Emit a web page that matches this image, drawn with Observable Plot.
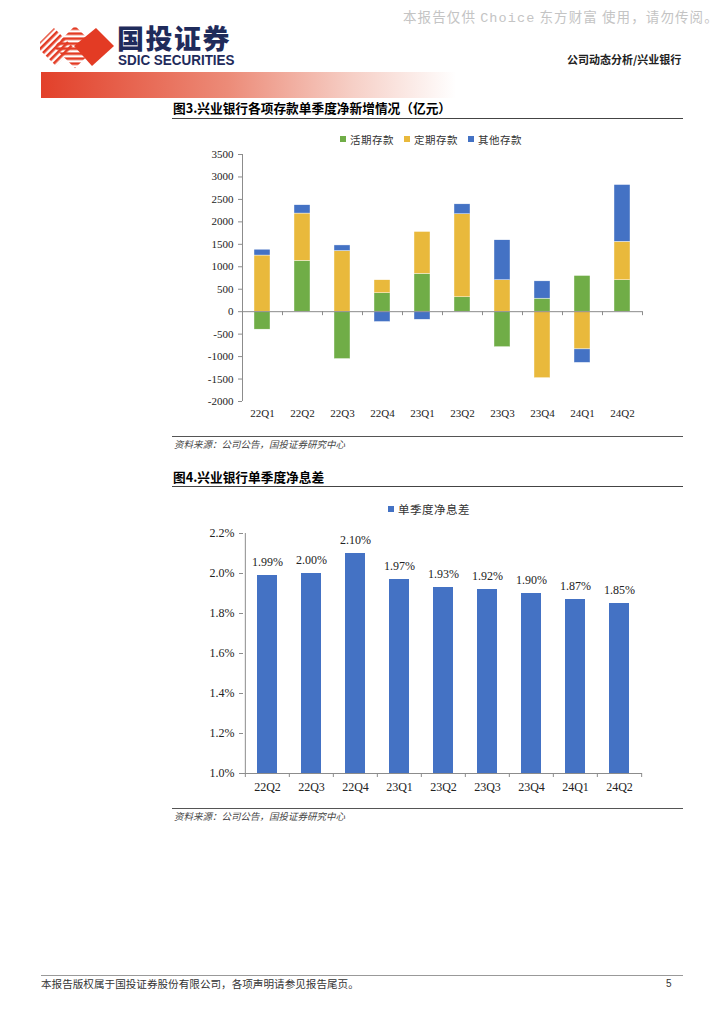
<!DOCTYPE html>
<html><head><meta charset="utf-8">
<script src="https://cdn.jsdelivr.net/npm/d3@7"></script>
<script src="https://cdn.jsdelivr.net/npm/@observablehq/plot@0.6"></script>
<style>
body{margin:0;background:#fff;width:724px;height:1024px;position:relative;overflow:hidden;font-family:"Noto Sans CJK SC",sans-serif;color:#000;}
.abs{position:absolute;white-space:nowrap;}
.hl{position:absolute;height:0;}
.title{font-size:12.7px;font-weight:700;line-height:18px;}
.src{font-size:9.5px;font-style:italic;color:#444;line-height:12px;}
.leg{display:flex;align-items:center;}
.leg span.sw{display:inline-block;}
</style></head><body>

<div class="abs" style="left:403px;top:7px;font-size:13.5px;line-height:18px;color:#c4c4c4;font-family:'Noto Sans CJK SC';letter-spacing:1.1px;">本报告仅供 <span style="font-family:'Liberation Mono';">Choice</span> 东方财富 使用，请勿传阅。</div>

<svg class="abs" style="left:40px;top:26px" width="200" height="44" viewBox="0 0 200 44">
  <defs>
    <pattern id="st" width="5" height="5" patternUnits="userSpaceOnUse" patternTransform="rotate(-45)">
      <rect x="0" y="0" width="5" height="2.6" fill="#e33b24"/>
    </pattern>
  </defs>
  <polygon points="-4,20 14,2 34,22 16,40" fill="url(#st)"/>
  <polygon points="56,2 74,20 52,40 34,20" fill="#e33b24"/>
  <rect x="20" y="6" width="30" height="30" fill="url(#st)" transform="rotate(45 35 21)"/>
</svg>
<div class="abs" style="left:117px;top:25px;font-size:27px;line-height:26px;font-weight:900;color:#1f2b5b;letter-spacing:1.5px;">国投证券</div>
<div class="abs" style="left:118px;top:54px;font-size:14px;line-height:12px;font-weight:700;color:#1f2b5b;font-family:'Liberation Sans Narrow','Liberation Sans';transform:scaleX(0.96);transform-origin:left;">SDIC SECURITIES</div>

<div class="abs" style="left:567px;top:51px;font-size:11px;line-height:16px;font-weight:700;color:#222;">公司动态分析/兴业银行</div>

<div class="abs" style="left:41px;top:72px;width:415px;height:26px;background:linear-gradient(to right,#e2402a 0%,#ec8b78 45%,#f6cfc6 75%,#ffffff 100%);"></div>

<div class="abs title" style="left:173px;top:99px;">图3.兴业银行各项存款单季度净新增情况（亿元）</div>
<div class="hl" style="left:172px;top:118px;width:511px;border-top:1.3px solid #444;"></div>

<div id="leg1" class="abs leg" style="left:340px;top:131px;height:16px;"></div>
<div id="chart1" class="abs" style="left:170px;top:145px;"></div>

<div class="hl" style="left:172px;top:436px;width:511px;border-top:1px solid #555;"></div>
<div class="abs src" style="left:174px;top:438px;">资料来源：公司公告，国投证券研究中心</div>

<div class="abs title" style="left:173px;top:468px;">图4.兴业银行单季度净息差</div>
<div class="hl" style="left:172px;top:486px;width:511px;border-top:1.3px solid #444;"></div>

<div id="leg2" class="abs leg" style="left:388px;top:501px;height:16px;"></div>
<div id="chart2" class="abs" style="left:170px;top:520px;"></div>

<div class="hl" style="left:172px;top:808px;width:511px;border-top:1px solid #555;"></div>
<div class="abs src" style="left:174px;top:810px;">资料来源：公司公告，国投证券研究中心</div>

<div class="hl" style="left:41px;top:975px;width:642px;border-top:1px solid #999;"></div>
<div class="abs" style="left:41px;top:977px;font-size:10.6px;line-height:13px;color:#333;">本报告版权属于国投证券股份有限公司，各项声明请参见报告尾页。</div>
<div class="abs" style="left:666px;top:977px;font-size:10px;line-height:13px;color:#333;font-family:'Liberation Sans';">5</div>

<script>
// ---- Chart 1 data: 兴业银行各项存款单季度净新增（亿元）
const quarters1 = ["22Q1","22Q2","22Q3","22Q4","23Q1","23Q2","23Q3","23Q4","24Q1","24Q2"];
const series1 = ["活期存款","定期存款","其他存款"];
const colors1 = ["#70ad47","#e9b93c","#4472c4"];
const demandDep = [-400, 1130, -1055, 410, 840, 320, -790, 290, 795, 700];
const timeDep   = [1250, 1055, 1350, 290, 935, 1850, 700, -1480, -840, 855];
const otherDep  = [130, 185, 125, -230, -180, 220, 890, 385, -300, 1265];
const yTicks1 = [-2000,-1500,-1000,-500,0,500,1000,1500,2000,2500,3000,3500];

// ---- Chart 2 data: 单季度净息差 (%)
const quarters2 = ["22Q2","22Q3","22Q4","23Q1","23Q2","23Q3","23Q4","24Q1","24Q2"];
const series2 = ["单季度净息差"];
const colors2 = ["#4472c4"];
const nim = [1.99, 2.00, 2.10, 1.97, 1.93, 1.92, 1.90, 1.87, 1.85];
const yTicks2 = [1.0,1.2,1.4,1.6,1.8,2.0,2.2];

function legend(el, names, colors, fs, sw, gap) {
  const box = document.getElementById(el);
  names.forEach((n, i) => {
    const s = document.createElement("span");
    s.className = "sw";
    s.style.cssText = `width:${sw}px;height:${sw}px;background:${colors[i]};margin-right:4px;`;
    const t = document.createElement("span");
    t.textContent = n;
    t.style.cssText = `font-size:${fs}px;color:#333;margin-right:${i < names.length-1 ? gap : 0}px;letter-spacing:0.5px;`;
    box.appendChild(s); box.appendChild(t);
  });
}
legend("leg1", series1, colors1, 10.5, 6, 10);
legend("leg2", series2, colors2, 11.5, 6, 0);

const rows1 = [];
quarters1.forEach((q, i) => {
  [demandDep, timeDep, otherDep].forEach((arr, j) => rows1.push({q, s: series1[j], v: arr[i]}));
});

const serifStyle = {fontFamily: "'Liberation Serif','Times New Roman',serif", fontSize: "11px", color: "#222", background: "transparent"};
const W = 520, ML1 = 72, MR1 = 48;
const step1 = (W - ML1 - MR1) / quarters1.length;

const c1 = Plot.plot({
  width: W, height: 280,
  marginLeft: ML1, marginRight: MR1, marginTop: 9, marginBottom: 24,
  style: serifStyle,
  x: {domain: quarters1, paddingInner: 0.6, paddingOuter: 0.3, axis: null},
  y: {domain: [-2000, 3500], axis: null},
  color: {domain: series1, range: colors1},
  marks: [
    Plot.barY(rows1, {x: "q", y: "v", fill: "s", stroke: "#ffffff", strokeWidth: 0.4}),
    Plot.ruleY([0], {stroke: "#8c8c8c", strokeWidth: 1}),
    Plot.ruleX([quarters1[0]], {dx: -step1 / 2, stroke: "#8c8c8c"}),
    Plot.ruleX(quarters1, {x: d => d, dx: -step1 / 2, y1: 0, y2: 0, insetBottom: -4, stroke: "#8c8c8c"}),
    Plot.ruleX([quarters1[quarters1.length - 1]], {dx: step1 / 2, y1: 0, y2: 0, insetBottom: -4, stroke: "#8c8c8c"}),
    Plot.axisY({ticks: yTicks1, tickSize: 4, tickPadding: 5, tickFormat: d => String(d), stroke: "#8c8c8c", fontSize: 11, label: null}),
    Plot.axisX({frameAnchor: "bottom", tickSize: 0, tickPadding: 8, fontSize: 11, label: null})
  ]
});
document.getElementById("chart1").appendChild(c1);

const rows2 = quarters2.map((q, i) => ({q, v: nim[i]}));
const ML2 = 73, MR2 = 48;
const step2 = (W - ML2 - MR2) / quarters2.length;
const c2 = Plot.plot({
  width: W, height: 280,
  marginLeft: ML2, marginRight: MR2, marginTop: 13, marginBottom: 27,
  style: {...serifStyle, fontSize: "12px"},
  x: {domain: quarters2, paddingInner: 0.55, paddingOuter: 0.275, axis: null},
  y: {domain: [yTicks2[0], yTicks2[yTicks2.length - 1]], axis: null},
  marks: [
    Plot.barY(rows2, {x: "q", y1: yTicks2[0], y2: "v", fill: colors2[0]}),
    Plot.text(rows2, {x: "q", y: "v", text: d => d.v.toFixed(2) + "%", dy: -13, fontSize: 12, fill: "#222"}),
    Plot.ruleY([yTicks2[0]], {stroke: "#8c8c8c"}),
    Plot.ruleX([quarters2[0]], {dx: -step2 / 2, stroke: "#8c8c8c"}),
    Plot.ruleX(quarters2, {x: d => d, dx: -step2 / 2, y1: yTicks2[0], y2: yTicks2[0], insetBottom: -4, stroke: "#8c8c8c"}),
    Plot.ruleX([quarters2[quarters2.length - 1]], {dx: step2 / 2, y1: yTicks2[0], y2: yTicks2[0], insetBottom: -4, stroke: "#8c8c8c"}),
    Plot.axisY({ticks: yTicks2, tickSize: 4, tickPadding: 5, tickFormat: d => d.toFixed(1) + "%", stroke: "#8c8c8c", fontSize: 12, label: null}),
    Plot.axisX({tickSize: 0, tickPadding: 9, fontSize: 12, label: null})
  ]
});
document.getElementById("chart2").appendChild(c2);
</script>
</body></html>
